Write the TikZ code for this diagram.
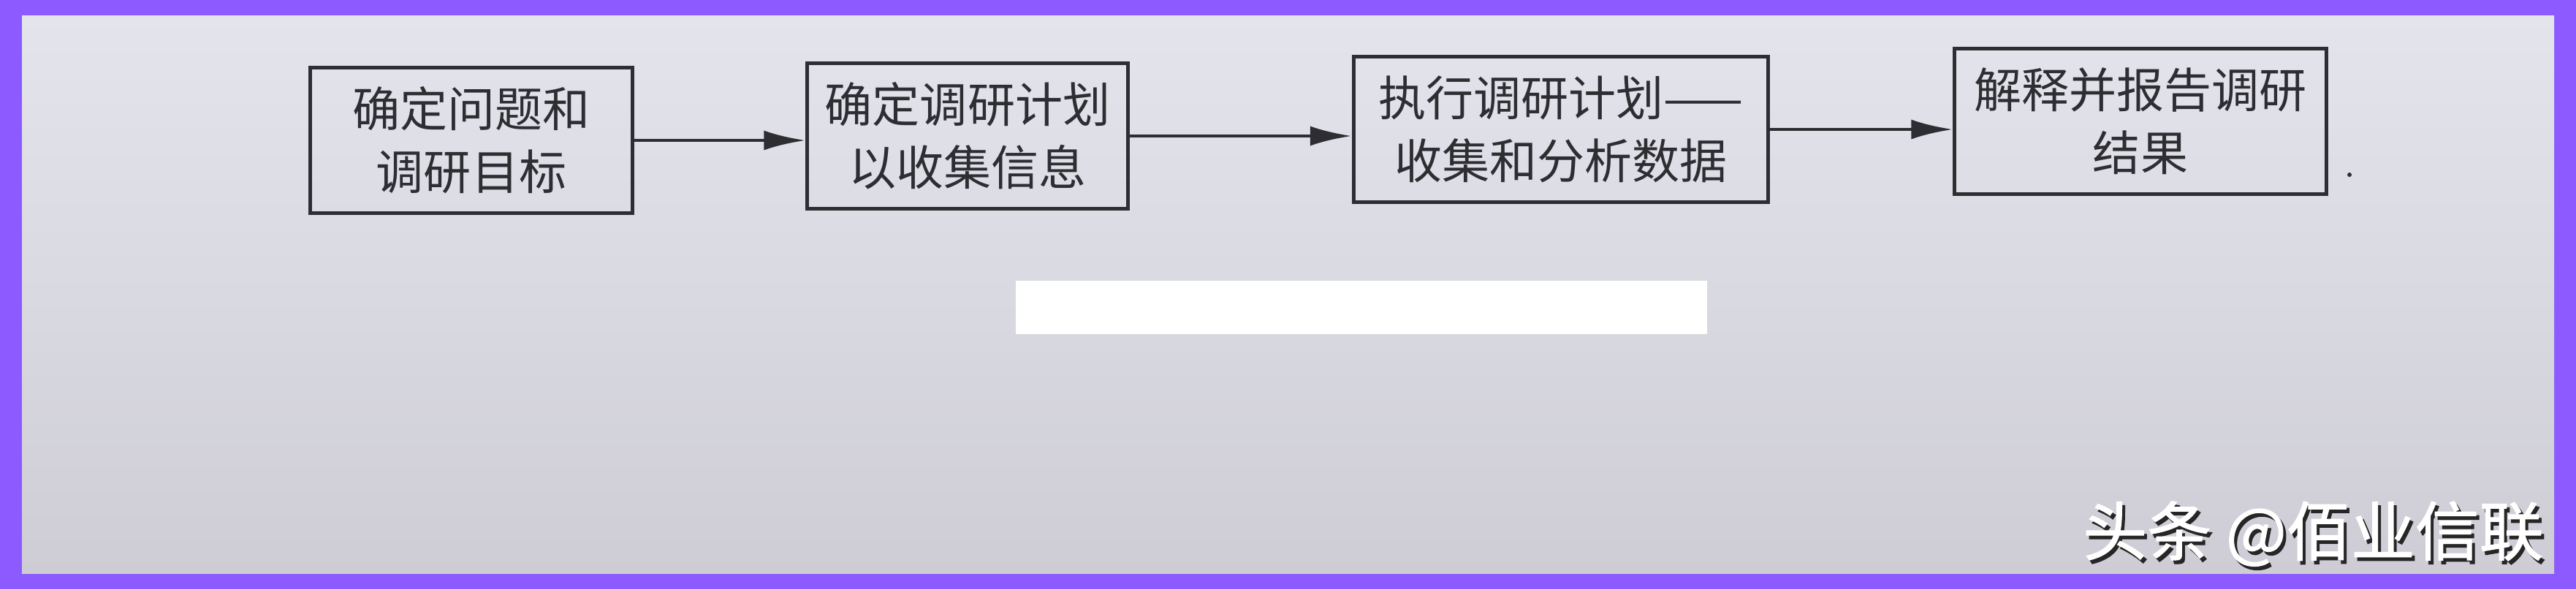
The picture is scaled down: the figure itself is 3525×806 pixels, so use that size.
\documentclass[tikz,border=0pt]{standalone}
\usepackage{fontspec}
\newfontfamily\cjk{Noto Sans CJK SC}
\newfontfamily\cjkmark{Noto Sans CJK SC}[FakeBold=1.2]
\usetikzlibrary{arrows.meta}

\definecolor{frame}{RGB}{140,90,255}
\definecolor{papertop}{RGB}{228,229,236}
\definecolor{paperbot}{RGB}{206,205,214}
\definecolor{ink}{RGB}{45,45,50}

\begin{document}
\begin{tikzpicture}[x=0.01cm,y=-0.01cm,
    stage/.style={draw=ink,line width=1.4pt,align=center,text=ink,
        font=\cjk\fontsize{18.5}{24.5}\selectfont,inner sep=0pt,minimum height=1.98cm},
    flow/.style={draw=ink,line width=1.4pt,-{Latex[length=5.7mm,width=2.7mm]}},
    watermark/.style={anchor=east,font=\cjkmark\fontsize{25}{25}\selectfont}]
    % Frame
    \fill[frame] (0,0) rectangle (3525,806);
    % Paper
    \shade[top color=papertop,bottom color=paperbot] (30,21) rectangle (3495,784);
    % Stages
    \node[stage,minimum width=4.41cm] (goal) at (645,192) {确定问题和\\调研目标};
    \node[stage,minimum width=4.38cm] (plan) at (1324,186) {确定调研计划\\以收集信息};
    \node[stage,minimum width=5.67cm] (run) at (2136,177) {执行调研计划——\\收集和分析数据};
    \node[stage,minimum width=5.08cm] (report) at (2929,166) {解释并报告调研\\结果};
    % Arrows
    \draw[flow] (goal.east) -- (goal.east -| plan.west);
    \draw[flow] (plan.east) -- (plan.east -| run.west);
    \draw[flow] (run.east) -- (run.east -| report.west);
    % Speck
    \fill[ink] (3215,239) circle (3);
    % Blank strip
    \fill[white] (1390,384) rectangle (2336,457);
    % Watermark
    \node[watermark,text=black!85] (markshade) at (3497,735) {头条 @佰业信联};
    \node[watermark,text=white] (markname) at (3493,730) {头条 @佰业信联};
\end{tikzpicture}
\end{document}
